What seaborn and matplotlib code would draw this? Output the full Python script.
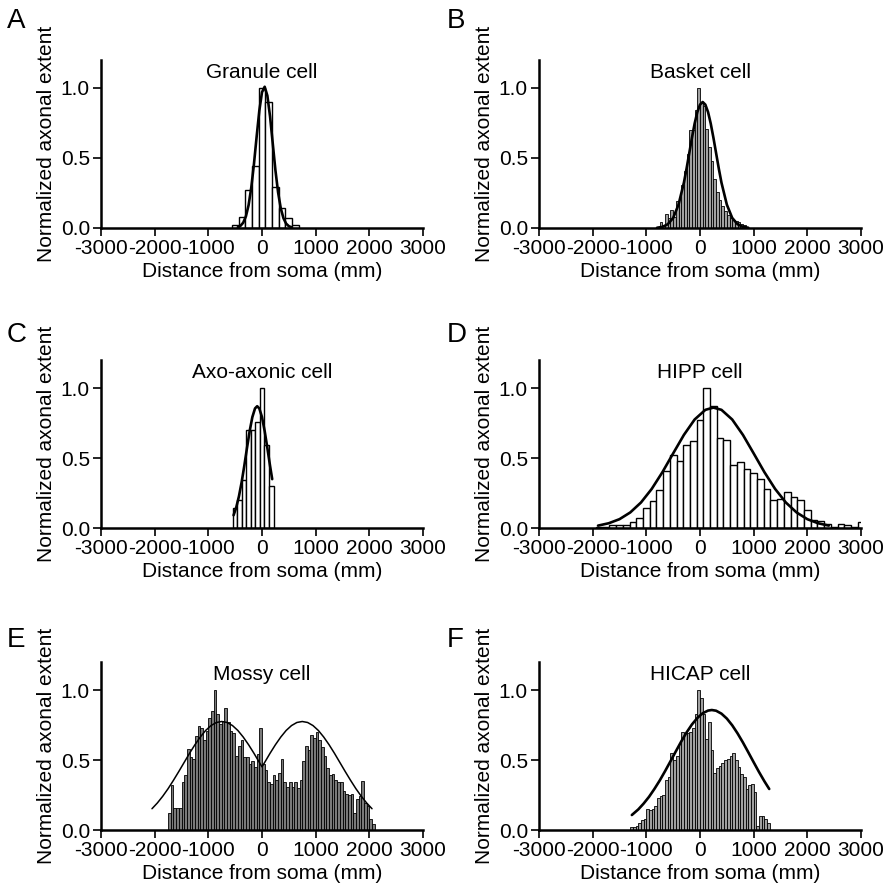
import numpy as np
import pandas as pd
import matplotlib
matplotlib.use("Agg")
import matplotlib.pyplot as plt
import seaborn as sns

# ---- data (distance in mm, normalized extent) ----
x_ticks = [-3000, -2000, -1000, 0, 1000, 2000, 3000]
x_ticklabels = ['-3000', '-2000', '-1000', '0', '1000', '2000', '3000']
y_ticks = [0.0, 0.5, 1.0]
y_ticklabels = ['0.0', '0.5', '1.0']

# A - granule cell (bins 125)
granule_centers = np.arange(-500, 626, 125)
granule_heights = [0.02, 0.08, 0.27, 0.44, 1.0, 0.90, 0.29, 0.14, 0.07, 0.02]
granule_fit_x = [-450, -400, -350, -300, -250, -200, -150, -100, -50, 0, 50,
                 100, 150, 200, 250, 300, 350, 400, 450, 500, 550]
granule_fit_y = [0.006, 0.016, 0.038, 0.083, 0.163, 0.288, 0.457, 0.652, 0.838, 0.970, 1.009,
                 0.945, 0.797, 0.605, 0.413, 0.254, 0.140, 0.070, 0.031, 0.013, 0.005]

# B - basket cell (bins 50)
basket_centers = np.arange(-775, 876, 50)
basket_heights = [0.01, 0.04, 0.02, 0.10, 0.07, 0.13, 0.08, 0.19, 0.22, 0.31,
                  0.41, 0.53, 0.70, 0.70, 0.84, 1.0, 0.89, 0.87, 0.71, 0.58,
                  0.48, 0.35, 0.26, 0.20, 0.16, 0.12, 0.09, 0.07, 0.06, 0.05,
                  0.04, 0.03, 0.02, 0.01]
basket_fit_x = [-800, -700, -600, -500, -400, -300, -250, -200, -150, -100, -50, 0, 50,
                100, 150, 200, 250, 300, 350, 400, 500, 600, 700, 800, 900]
basket_fit_y = [0.002, 0.008, 0.027, 0.072, 0.167, 0.324, 0.425, 0.535, 0.645, 0.746, 0.828, 0.881, 0.900,
                0.881, 0.828, 0.746, 0.645, 0.535, 0.425, 0.324, 0.167, 0.072, 0.027, 0.008, 0.002]

# C - axo-axonic cell (bins 85)
axo_centers = np.arange(-507, 174, 85)
axo_heights = [0.14, 0.20, 0.34, 0.70, 0.70, 0.76, 1.0, 0.59, 0.30]
axo_fit_x = [-530, -480, -430, -380, -330, -280, -230, -180, -130, -90, -50, 0, 50, 100, 150, 190]
axo_fit_y = [0.091, 0.147, 0.226, 0.326, 0.444, 0.571, 0.692, 0.792, 0.854, 0.870,
             0.854, 0.792, 0.692, 0.571, 0.444, 0.349]

# D - HIPP cell (bins 125)
hipp_centers = np.arange(-1875, 3001, 125)
hipp_heights = [0.01, 0.01, 0.02, 0.02, 0.02, 0.04, 0.07, 0.14, 0.19, 0.27,
                0.41, 0.52, 0.48, 0.59, 0.62, 0.77, 1.0, 0.87, 0.64, 0.63,
                0.45, 0.47, 0.42, 0.39, 0.35, 0.28, 0.20, 0.21, 0.26, 0.22,
                0.20, 0.13, 0.06, 0.05, 0.03, 0.01, 0.03, 0.02, 0.01, 0.04]
hipp_fit_x = [-1900, -1700, -1500, -1300, -1100, -900, -700, -500, -300, -100, 100, 250,
              400, 600, 800, 1000, 1200, 1400, 1600, 1800, 2000, 2200, 2400]
hipp_fit_y = [0.017, 0.034, 0.063, 0.111, 0.182, 0.279, 0.399, 0.533, 0.665, 0.775, 0.844, 0.860,
              0.844, 0.775, 0.665, 0.533, 0.399, 0.279, 0.182, 0.111, 0.063, 0.034, 0.017]

# E - mossy cell (bins 50)
mossy_centers = np.arange(-1725, 2076, 50)
mossy_heights = [0.12, 0.32, 0.16, 0.16, 0.16, 0.34, 0.39, 0.58, 0.52, 0.51,
                 0.67, 0.74, 0.73, 0.64, 0.71, 0.80, 0.85, 1.0, 0.83, 0.76,
                 0.78, 0.87, 0.77, 0.71, 0.69, 0.53, 0.60, 0.64, 0.52, 0.52,
                 0.47, 0.49, 0.45, 0.54, 0.73, 0.47, 0.43, 0.34, 0.33, 0.39,
                 0.36, 0.41, 0.51, 0.34, 0.31, 0.34, 0.31, 0.34, 0.30, 0.36,
                 0.49, 0.60, 0.57, 0.68, 0.66, 0.70, 0.64, 0.59, 0.53, 0.44,
                 0.39, 0.40, 0.36, 0.34, 0.34, 0.28, 0.26, 0.25, 0.26, 0.12,
                 0.22, 0.24, 0.35, 0.19, 0.17, 0.08, 0.04]
mossy_fit_x = [-2050, -1950, -1850, -1750, -1650, -1550, -1450, -1350, -1250, -1150, -1050,
               -950, -850, -750, -650, -550, -450, -350, -250, -150, -50, 0,
               50, 150, 250, 350, 450, 550, 650, 750, 850, 950, 1050,
               1150, 1250, 1350, 1450, 1550, 1650, 1750, 1850, 1950, 2050]
mossy_fit_y = [0.152, 0.193, 0.241, 0.295, 0.355, 0.418, 0.483, 0.548, 0.609, 0.664, 0.711,
               0.746, 0.768, 0.775, 0.768, 0.746, 0.711, 0.664, 0.609, 0.548, 0.483, 0.451,
               0.483, 0.548, 0.609, 0.664, 0.711, 0.746, 0.768, 0.775, 0.768, 0.746, 0.711,
               0.664, 0.609, 0.548, 0.483, 0.418, 0.355, 0.295, 0.241, 0.193, 0.152]

# F - HICAP cell (bins 50)
hicap_centers = np.arange(-1275, 1276, 50)
hicap_heights = [0.02, 0.02, 0.03, 0.05, 0.07, 0.08, 0.15, 0.14, 0.15, 0.17,
                 0.23, 0.24, 0.25, 0.36, 0.38, 0.55, 0.50, 0.53, 0.62, 0.70,
                 0.69, 0.69, 0.70, 0.73, 0.83, 1.0, 0.94, 0.83, 0.65, 0.77,
                 0.57, 0.41, 0.44, 0.46, 0.48, 0.50, 0.51, 0.53, 0.55, 0.50,
                 0.45, 0.40, 0.38, 0.29, 0.32, 0.33, 0.27, 0.03, 0.10, 0.10,
                 0.08, 0.05]
hicap_fit_x = [-1270, -1150, -1050, -950, -850, -750, -650, -550, -450, -350, -250, -150, -50,
               50, 150, 220, 300, 400, 500, 600, 700, 800, 900, 1000, 1100, 1200, 1290]
hicap_fit_y = [0.107, 0.147, 0.189, 0.237, 0.293, 0.354, 0.421, 0.491, 0.562, 0.632, 0.697, 0.754, 0.800,
               0.834, 0.853, 0.857, 0.852, 0.831, 0.796, 0.748, 0.690, 0.625, 0.555, 0.484, 0.414, 0.348, 0.293]


sns.set_theme(style="ticks")
plt.rcParams['font.family'] = ['Liberation Sans', 'DejaVu Sans']
plt.rcParams['axes.unicode_minus'] = False
plt.rcParams['text.color'] = 'black'
plt.rcParams['axes.labelcolor'] = 'black'
plt.rcParams['xtick.color'] = 'black'
plt.rcParams['ytick.color'] = 'black'

fig = plt.figure(figsize=(8.9, 8.93), dpi=100)
W, H = 890., 893.

# (letter, title, centers, heights, binwidth, bar colour, edge lw, fit x, fit y, fit lw,
#  left px, zero-line px, letter top px)
panels = [
    ('A', 'Granule cell', granule_centers, granule_heights, 125, 'white', 1.0, granule_fit_x, granule_fit_y, 1.9, 101, 228, 8),
    ('B', 'Basket cell', basket_centers, basket_heights, 50, '#a0a0a0', 0.6, basket_fit_x, basket_fit_y, 1.9, 539, 228, 8),
    ('C', 'Axo-axonic cell', axo_centers, axo_heights, 85, 'white', 1.0, axo_fit_x, axo_fit_y, 1.9, 101, 528, 322),
    ('D', 'HIPP cell', hipp_centers, hipp_heights, 125, 'white', 1.0, hipp_fit_x, hipp_fit_y, 1.9, 539, 528, 322),
    ('E', 'Mossy cell', mossy_centers, mossy_heights, 50, '#7a7a7a', 0.6, mossy_fit_x, mossy_fit_y, 1.1, 101, 830, 627),
    ('F', 'HICAP cell', hicap_centers, hicap_heights, 50, '#a0a0a0', 0.6, hicap_fit_x, hicap_fit_y, 1.9, 539, 830, 627),
]

for letter, title, cx, hy, bw, fc, elw, fx, fy, flw, left, zero, ltop in panels:
    ax = fig.add_axes([left / W, 1 - zero / H, 322 / W, 168 / H])
    df = pd.DataFrame({'dist': np.asarray(cx, dtype=float), 'extent': hy})
    edges = list(df['dist'] - bw / 2) + [df['dist'].iloc[-1] + bw / 2]
    sns.histplot(data=df, x='dist', weights='extent', bins=edges, ax=ax, color=fc, alpha=1,
                 edgecolor='black', linewidth=elw, stat='count')
    fit = pd.DataFrame({'dist': fx, 'extent': fy})
    sns.lineplot(data=fit, x='dist', y='extent', ax=ax, color='black', linewidth=flw, sort=False)

    ax.set_xlim(-3000, 3000)
    ax.set_ylim(0, 1.2)
    ax.set_xticks(x_ticks)
    ax.set_xticklabels(x_ticklabels)
    ax.set_yticks(y_ticks)
    ax.set_yticklabels(y_ticklabels)
    ax.tick_params(direction='out', length=6, width=1.2, labelsize=15, pad=2, color='black')
    sns.despine(ax=ax)
    for s in ['left', 'bottom']:
        ax.spines[s].set_linewidth(1.8)
        ax.spines[s].set_color('black')
    ax.set_xlabel('Distance from soma (mm)', fontsize=15, labelpad=3)
    ax.set_ylabel('Normalized axonal extent', fontsize=15, labelpad=3)
    ax.text(0.5, 1.07, title, transform=ax.get_yaxis_transform(),
            ha='center', va='baseline', fontsize=15)

    lx = 7 if left < 300 else 447
    fig.text(lx / W, 1 - ltop / H, letter, fontsize=20, ha='left', va='top')

fig.savefig('out.png', dpi=100)
